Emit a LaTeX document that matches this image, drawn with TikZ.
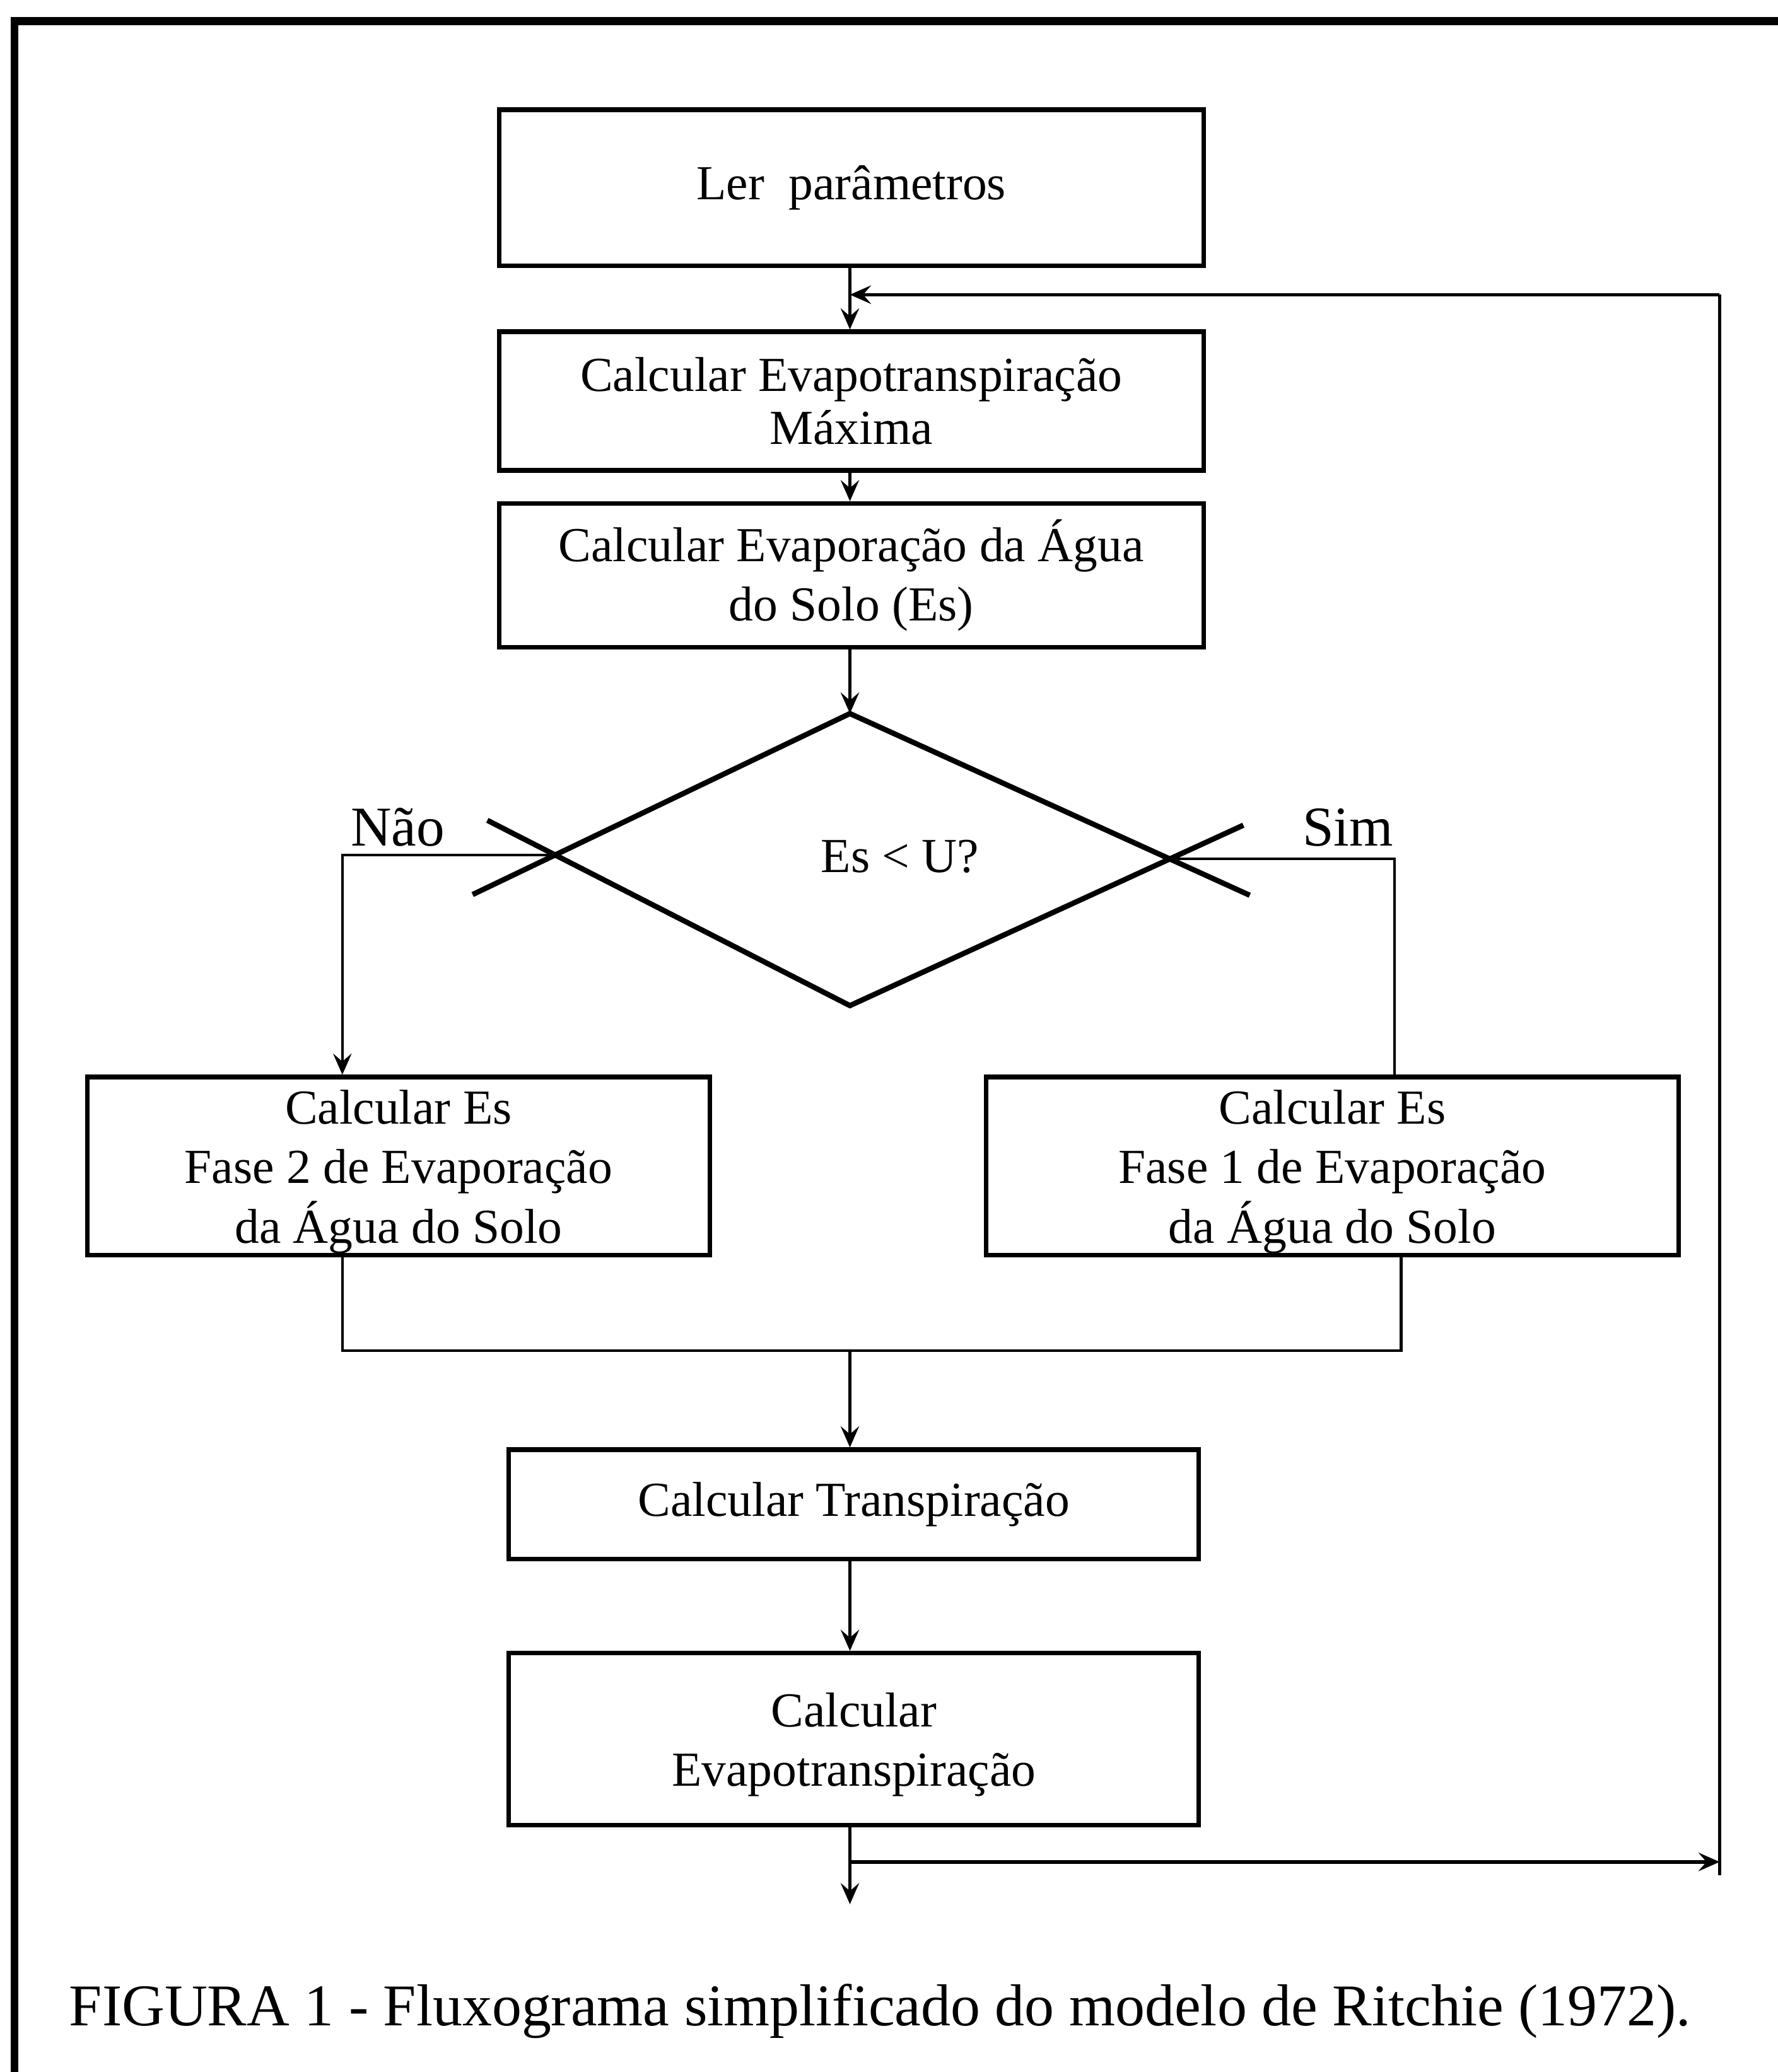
\documentclass[tikz,border=0pt]{standalone}
\usepackage{fontspec}
\setmainfont{Liberation Serif}
\usetikzlibrary{arrows.meta,calc}
\begin{document}
\begin{tikzpicture}[x=0.5pt,y=-0.5pt,
  box/.style={draw,line width=1.7pt,rectangle,inner sep=0pt,align=center,
              font=\fontsize{18.5}{22.5}\selectfont},
  conn/.style={line width=1pt},
  arr/.style={conn,-{Stealth[length=8pt,width=7pt,inset=3pt]}},
  dia/.style={line width=2pt},
  lbl/.style={font=\fontsize{21.3}{24}\selectfont,inner sep=0pt,anchor=base west}]
\useasboundingbox (0,0) rectangle (1345,1568);
% frame
\draw[line width=2.9pt] (11,1568) -- (11,16) -- (1345,16);
% spine
\coordinate (sp) at (643,0);
% boxes
\node[box,minimum width=266.5pt,minimum height=59pt] (b1) at (644,142) {Ler\ \ parâmetros};
\node[box,minimum width=266.5pt,minimum height=52.5pt,font=\fontsize{18.5}{20}\selectfont] (b2) at (644,303.5) {Calcular Evapotranspiração\\Máxima};
\node[box,minimum width=266.5pt,minimum height=54.5pt] (b3) at (644,435.5) {Calcular Evaporação da Água\\do Solo (Es)};
\node[box,minimum width=235.5pt,minimum height=67.5pt] (b4) at (301.5,882.5) {\rule{0pt}{17pt}Calcular Es\\Fase 2 de Evaporação\\da Água do Solo};
\node[box,minimum width=262pt,minimum height=67.5pt] (b5) at (1008,882.5) {\rule{0pt}{17pt}Calcular Es\\Fase 1 de Evaporação\\da Água do Solo};
\node[box,minimum width=261pt,minimum height=41.5pt] (b6) at (646,1138.5) {Calcular Transpiração};
\node[box,minimum width=261pt,minimum height=65pt] (b7) at (646,1316) {\rule{0pt}{17pt}Calcular\\Evapotranspiração};
% decision
\coordinate (dT) at (643,540);
\coordinate (dB) at (643,761);
\coordinate (dL) at (420,647);
\coordinate (dR) at (885,650);
\draw[dia,line join=miter] (dT) -- (dR) -- (dB) -- (dL) -- cycle;
\draw[dia] (dL) -- ($(dT)!1.28!(dL)$);
\draw[dia] (dL) -- ($(dB)!1.23!(dL)$);
\draw[dia] (dR) -- ($(dT)!1.25!(dR)$);
\draw[dia] (dR) -- ($(dB)!1.23!(dR)$);
\node[font=\fontsize{18.5}{22}\selectfont,inner sep=0pt] (q) at (681,648) {Es < U?};
\node[lbl] (nao) at (265,640) {Não};
\node[lbl] (sim) at (985,640) {Sim};
% connectors
\draw[arr] (b1.south -| sp) -- (b2.north -| sp);
\draw[arr] (b2.south -| sp) -- (b3.north -| sp);
\draw[arr] (b3.south -| sp) -- (dT);
\draw[arr] (dL) -| ($(b4.north)+(-42.5,0)$);
\draw[conn] (dR) -| ($(b5.north)+(47,0)$);
\coordinate (j) at (643,1022);
\draw[conn] ($(b4.south)+(-42.5,0)$) |- (j) -| ($(b5.south)+(52,0)$);
\draw[arr] (j) -- (b6.north -| j);
\draw[arr] (b6.south -| sp) -- (b7.north -| sp);
\coordinate (out) at (643,1441);
\draw[arr] (b7.south -| sp) -- (out);
\coordinate (lr) at (1301,1409);
\coordinate (lb) at (1301,1419);
\coordinate (lt) at (1301,223);
\draw[arr,line width=1.4pt] (sp |- lr) -- (lr);
\draw[conn] (lb) -- (lt);
\draw[arr,line width=1.3pt] (lt) -- (sp |- lt);
% caption
\node[anchor=base west,font=\fontsize{22.4}{26}\selectfont,inner sep=0pt] (cap) at (52,1533) {FIGURA 1 - Fluxograma simplificado do modelo de Ritchie (1972).};
\end{tikzpicture}
\end{document}
